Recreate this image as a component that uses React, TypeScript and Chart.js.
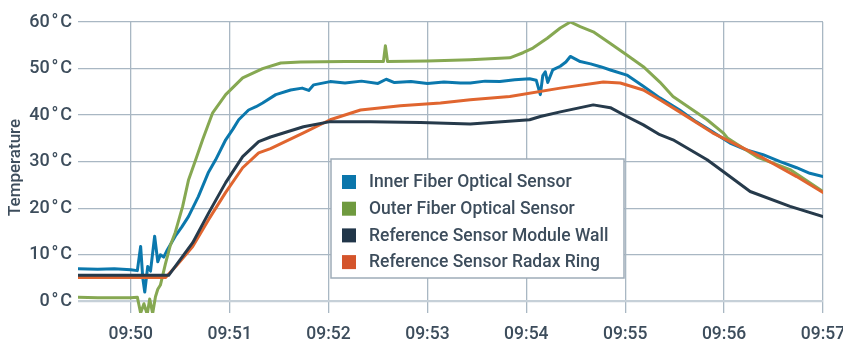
import { useEffect, useRef } from "react";
import { Chart, registerables } from "chart.js";

Chart.register(...registerables);

// time in seconds relative to 09:50:00
const X_TICKS = [0, 60, 120, 180, 240, 300, 360, 420];
const X_TICK_LABELS = ["09:50", "09:51", "09:52", "09:53", "09:54", "09:55", "09:56", "09:57"];
const Y_TICKS = [0, 10, 20, 30, 40, 50, 60];

const innerTime = [-32, -20, -10, 0, 4, 6, 7.3, 8.5, 10.3, 12, 14.5, 16.4, 18, 20, 21.8, 27, 31, 35, 41, 47, 51.5, 57.6, 62, 65.5, 71.5, 76, 80, 88, 97, 104, 108, 111, 121, 130, 140, 150, 155, 160, 170, 180, 190, 200, 206, 215, 224, 233, 242, 246, 248.5, 250, 251.5, 253, 256, 260.6, 264, 266.7, 272.7, 279, 285, 291, 301, 311, 321, 333, 343, 353, 363.6, 373, 383.6, 394, 404, 412, 420];
const innerTemp = [7.0, 6.9, 7.0, 6.8, 6.6, 11.8, 5, 2, 7.5, 6.5, 14, 8.5, 10, 9.5, 10.8, 14, 16, 18.2, 22.5, 27.6, 30.4, 34.7, 37, 39, 41.1, 41.8, 42.6, 44.4, 45.4, 45.8, 45.3, 46.5, 47.2, 46.9, 47.3, 46.8, 47.7, 47, 47.2, 46.8, 47.1, 46.9, 46.9, 47.3, 47.2, 47.6, 47.8, 47.5, 44.4, 48.5, 49.3, 47, 49.7, 50.5, 51.4, 52.6, 51.5, 51, 50.4, 49.7, 48.6, 46.2, 43.7, 41.1, 38.6, 36.4, 34, 32.6, 31.5, 30, 28.7, 27.5, 26.8];

const outerTime = [-32, -20, 0, 4, 6, 8, 10, 11.5, 13.3, 15, 16.4, 18, 21, 24, 27, 31.5, 35, 39.4, 43.6, 49.7, 57.6, 67.9, 80, 91, 103, 130, 153.3, 154.5, 155.8, 180, 206, 230, 238, 244, 252.7, 260.6, 266.7, 272.7, 280.6, 291, 301, 311, 321, 329, 349.7, 359.4, 362, 380, 400, 420];
const outerTemp = [0.9, 0.8, 0.8, 0.9, -2.5, -0.5, -2.8, 0.5, -2.6, 1.0, 2.6, 3.5, 8, 12, 14.8, 20.4, 26, 30.4, 34.7, 40.5, 44.4, 48, 50, 51.2, 51.4, 51.5, 51.5, 54.9, 51.5, 51.6, 51.9, 52.3, 53.4, 54.4, 56.5, 58.7, 60, 59, 57.9, 55.4, 52.9, 50.4, 47.1, 44, 39, 36.2, 35.1, 31, 28.3, 23.6];

const wallTime = [-32, 23, 37.6, 47.3, 57.6, 67.9, 77.6, 84.8, 104.8, 121, 145.5, 175.8, 206, 242, 248.5, 260.6, 280.6, 291, 301, 311, 321, 329, 349.7, 359.4, 375.8, 400, 420];
const wallTemp = [5.6, 5.6, 12.6, 19, 25.5, 31.1, 34.3, 35.3, 37.5, 38.6, 38.6, 38.4, 38.1, 39, 39.7, 40.7, 42.2, 41.6, 39.7, 37.9, 35.8, 34.7, 30.4, 27.9, 23.6, 20.4, 18.2];

const radaxTime = [-32, 21, 27.3, 37.6, 47.3, 57.6, 67.9, 77.6, 84.8, 104.8, 121, 139.4, 163.6, 187.9, 206, 230, 260.6, 286.7, 297, 311, 321, 333, 353, 363.6, 383.6, 404, 420];
const radaxTemp = [5.1, 5.1, 7.5, 11.8, 17.6, 23.4, 28.7, 31.9, 32.8, 36.2, 39, 41.1, 42, 42.6, 43.3, 44, 45.8, 47.1, 46.9, 45.4, 43.3, 40.7, 36.2, 34.3, 30.8, 26.8, 23.4];

const SERIES_LABELS = [
  "Inner Fiber Optical Sensor",
  "Outer Fiber Optical Sensor",
  "Reference Sensor Module Wall",
  "Reference Sensor Radax Ring",
];

const TEXT = "#3d4d5c";
const FONT = "Roboto, 'Noto Sans', sans-serif";

const pts = (t: number[], v: number[]) => t.map((x, i) => ({ x, y: v[i] }));

const boxLegend = {
  id: "boxLegend",
  afterDraw(chart: any, _a: any, o: any) {
    const ctx = chart.ctx as CanvasRenderingContext2D;
    ctx.save();
    ctx.fillStyle = "#ffffff";
    ctx.fillRect(o.x, o.y, o.w, o.h);
    ctx.strokeStyle = "#9eacb8";
    ctx.lineWidth = 1.5;
    ctx.strokeRect(o.x, o.y, o.w, o.h);
    ctx.font = o.font;
    ctx.textBaseline = "middle";
    ctx.textAlign = "left";
    chart.data.datasets.forEach((ds: any, i: number) => {
      const cy = o.y + o.first + i * o.row;
      ctx.fillStyle = ds.legendColor || ds.borderColor;
      ctx.fillRect(o.x + o.sqX, cy - o.sq / 2, o.sq, o.sq);
      ctx.fillStyle = TEXT;
      ctx.fillText(ds.label, o.x + o.textX, cy + 1);
    });
    ctx.restore();
  },
};

export default function App() {
  const ref = useRef<HTMLCanvasElement>(null);
  useEffect(() => {
    document.body.style.margin = "0";
    const chart = new Chart(ref.current!, {
      type: "line",
      data: {
        datasets: [
          { label: SERIES_LABELS[0], data: pts(innerTime, innerTemp), borderColor: "#0b78ad", legendColor: "#0b76ab", order: 3 } as any,
          { label: SERIES_LABELS[1], data: pts(outerTime, outerTemp), borderColor: "#86a852", legendColor: "#6f9a3f", order: 2 } as any,
          { label: SERIES_LABELS[2], data: pts(wallTime, wallTemp), borderColor: "#263a4b", legendColor: "#213649", order: 0 } as any,
          { label: SERIES_LABELS[3], data: pts(radaxTime, radaxTemp), borderColor: "#e0652f", legendColor: "#d4542b", order: 1 } as any,
        ],
      },
      options: {
        responsive: false,
        animation: false,
        layout: { padding: { top: 22, right: 20, left: 0, bottom: 0 } },
        elements: {
          point: { radius: 0 },
          line: { borderWidth: 3, tension: 0, borderCapStyle: "round", borderJoinStyle: "round" },
        },
        scales: {
          x: {
            type: "linear",
            min: -32,
            max: 420,
            afterBuildTicks: (s: any) => {
              s.ticks = X_TICKS.map((v) => ({ value: v }));
            },
            afterFit: (s: any) => {
              s.height = 26;
              s.paddingLeft = 0;
              s.paddingRight = 0;
            },
            grid: { color: "#a9b7c3", lineWidth: 1.3, drawTicks: false },
            border: { display: false },
            ticks: {
              padding: 11,
              maxRotation: 0,
              autoSkip: false,
              color: TEXT,
              font: { family: FONT, size: 17.5, weight: 500 as any },
              callback: (v: any) => X_TICK_LABELS[X_TICKS.indexOf(Number(v))] ?? "",
            },
          },
          y: {
            min: -2.5,
            max: 60,
            afterBuildTicks: (s: any) => {
              s.ticks = Y_TICKS.map((v) => ({ value: v }));
            },
            afterFit: (s: any) => {
              s.width = 78;
            },
            grid: {
              drawTicks: false,
              color: (c: any) => (c.tick && c.tick.value === 0 ? "#c6d0d8" : "#a9b7c3"),
              lineWidth: (c: any) => (c.tick && c.tick.value === 0 ? 2.2 : 1.3),
            },
            border: { display: false },
            title: {
              display: true,
              text: "Temperature",
              color: TEXT,
              font: { family: FONT, size: 17, weight: 500 as any },
              padding: { top: 6, bottom: 0 },
            },
            ticks: {
              padding: 6,
              color: TEXT,
              font: { family: FONT, size: 18, weight: 500 as any },
              callback: (v: any) => `${v}\u200A°\u200AC`,
            },
          },
        },
        plugins: {
          legend: { display: false },
          tooltip: { enabled: false },
          boxLegend: {
            x: 331, y: 159, w: 293, h: 119,
            first: 23, row: 26.7, sq: 14, sqX: 11, textX: 38,
            font: `500 17.5px ${FONT}`,
          },
        } as any,
      },
      plugins: [boxLegend],
    });
    return () => chart.destroy();
  }, []);
  return (
    <div style={{ width: 843, height: 339 }}>
      <canvas ref={ref} width={843} height={339} />
    </div>
  );
}
